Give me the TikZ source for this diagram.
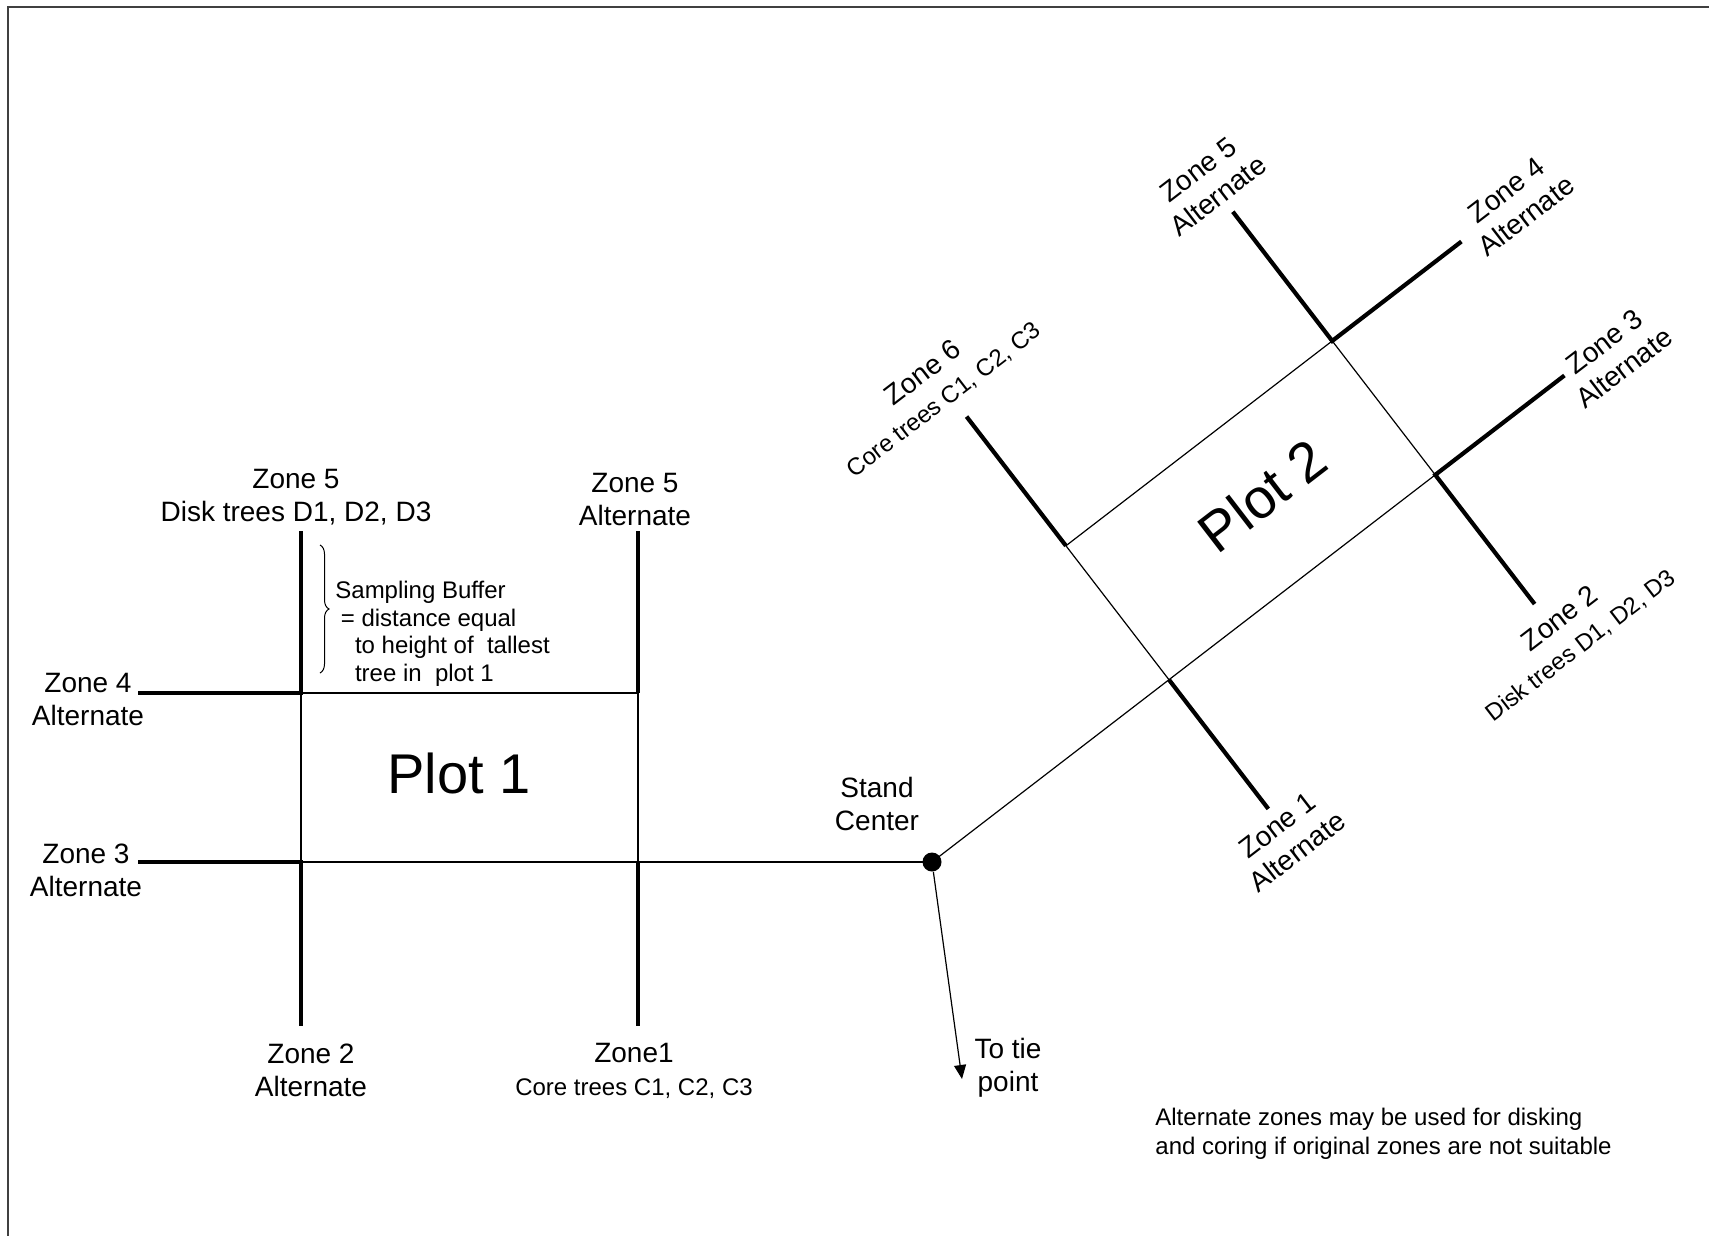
\documentclass[tikz,border=0pt]{standalone}
\usepackage{fontspec}
\setmainfont{Liberation Sans}
\usetikzlibrary{arrows.meta, decorations.pathreplacing}
\newcommand{\treefont}{\fontsize{12}{14}\selectfont}

\begin{document}
\begin{tikzpicture}[
    x=0.5pt, y=-0.5pt,
    boundary/.style={line width=0.6pt},
    zoneline/.style={line width=2.1pt, line join=miter},
    zonetext/.style={align=center, font=\fontsize{14}{16.5}\selectfont, inner sep=0pt},
    plottitle/.style={font=\fontsize{28}{33}\selectfont, inner sep=0pt},
    buffertext/.style={align=left, font=\fontsize{12}{13.75}\selectfont, inner sep=0pt},
    notetext/.style={align=left, font=\fontsize{12}{14.5}\selectfont, inner sep=0pt},
    standpt/.style={circle, fill, inner sep=0pt, minimum size=9.5pt},
    tiearrow/.style={-{Triangle[length=7pt, width=6pt]}, line width=0.6pt}
]

\useasboundingbox (0,0) rectangle (1709,1236);
\draw[line width=1pt, black!75] (8,1236) -- (8,7) -- (1709,7);

% Stand center and tie point
\node[standpt] (S) at (932,862) {};
\coordinate (tie) at (962,1079);
\draw[tiearrow] (S) -- (tie);
\node[zonetext] (standlab) at (877,804) {Stand\\Center};
\node[zonetext] (tielab) at (1008,1068) {To tie\\point};

% Plot 1
\coordinate (p1nb) at (638,862);
\coordinate (p1fb) at (301,862);
\coordinate (p1nt) at (638,693);
\coordinate (p1ft) at (301,693);
\coordinate (p1z1) at (638,1026);
\coordinate (p1z2) at (301,1026);
\coordinate (p1z3) at (138,862);
\coordinate (p1z4) at (138,693);
\coordinate (p1z5) at (301,531);
\coordinate (p1z5a) at (638,531);

\draw[boundary] (S.center) -- (p1fb);
\draw[boundary] (p1nb) -- (p1nt) -- (p1ft) -- (p1fb);
\draw[zoneline] (p1nb) -- (p1z1);
\draw[zoneline] (p1nt) -- (p1z5a);
\draw[zoneline] (p1z5) -- (p1ft) -- (p1z4);
\draw[zoneline] (p1z3) -- (p1fb) -- (p1z2);

\node[plottitle] (plot1lab) at (459,773) {Plot 1};
\node[zonetext] (p1z5lab) at (296,497) {Zone 5\\Disk trees D1, D2, D3};
\node[zonetext] (p1z5alab) at (635,500) {Zone 5\\Alternate};
\node[zonetext] (p1z4lab) at (88,699) {Zone 4\\Alternate};
\node[zonetext] (p1z3lab) at (86,870) {Zone 3\\Alternate};
\node[zonetext] (p1z2lab) at (311,1070) {Zone 2\\Alternate};
\node[zonetext] (p1z1lab) at (634,1071) {Zone1\\{\treefont Core trees C1, C2, C3}};

% Sampling buffer
\draw[decorate, decoration={brace, amplitude=4.5pt}, line width=0.5pt] (320,545) -- (320,673);
\node[buffertext, anchor=west] (bufferlab) at (335,634) {Sampling Buffer\\\hspace*{2.75pt}= distance equal\\\hspace*{9.8pt}to height of\ \ tallest\\\hspace*{9.8pt}tree in\ \ plot 1};

% Plot 2
\begin{scope}[shift={(S.center)}, rotate=37.57, y=0.5pt, transform shape]
  \coordinate (p2nb) at (299,0);
  \coordinate (p2fb) at (635,0);
  \coordinate (p2nt) at (299,169);
  \coordinate (p2ft) at (635,169);
  \coordinate (p2z1) at (299,-163);
  \coordinate (p2z2) at (635,-163);
  \coordinate (p2z3) at (798,0);
  \coordinate (p2z4) at (798,169);
  \coordinate (p2z5) at (635,332);
  \coordinate (p2z6) at (299,332);

  \draw[boundary] (S.center) -- (p2fb);
  \draw[boundary] (p2nb) -- (p2nt) -- (p2ft) -- (p2fb);
  \draw[zoneline] (p2nb) -- (p2z1);
  \draw[zoneline] (p2nt) -- (p2z6);
  \draw[zoneline] (p2z5) -- (p2ft) -- (p2z4);
  \draw[zoneline] (p2z3) -- (p2fb) -- (p2z2);

  \node[plottitle] (plot2lab) at (485,89) {Plot 2};
  \node[zonetext] (p2z6lab) at (291,376) {Zone 6\\{\treefont Core trees C1, C2, C3}};
  \node[zonetext] (p2z5lab) at (633,370) {Zone 5\\Alternate};
  \node[zonetext] (p2z4lab) at (865,166) {Zone 4\\Alternate};
  \node[zonetext] (p2z3lab) at (850,-14) {Zone 3\\Alternate};
  \node[zonetext] (p2z2lab) at (646,-207) {Zone 2\\{\treefont Disk trees D1, D2, D3}};
  \node[zonetext] (p2z1lab) at (296,-198) {Zone 1\\Alternate};
\end{scope}

% Note
\node[notetext, anchor=west] (notelab) at (1155,1134) {Alternate zones may be used for disking\\and coring if original zones are not suitable};

\end{tikzpicture}
\end{document}
